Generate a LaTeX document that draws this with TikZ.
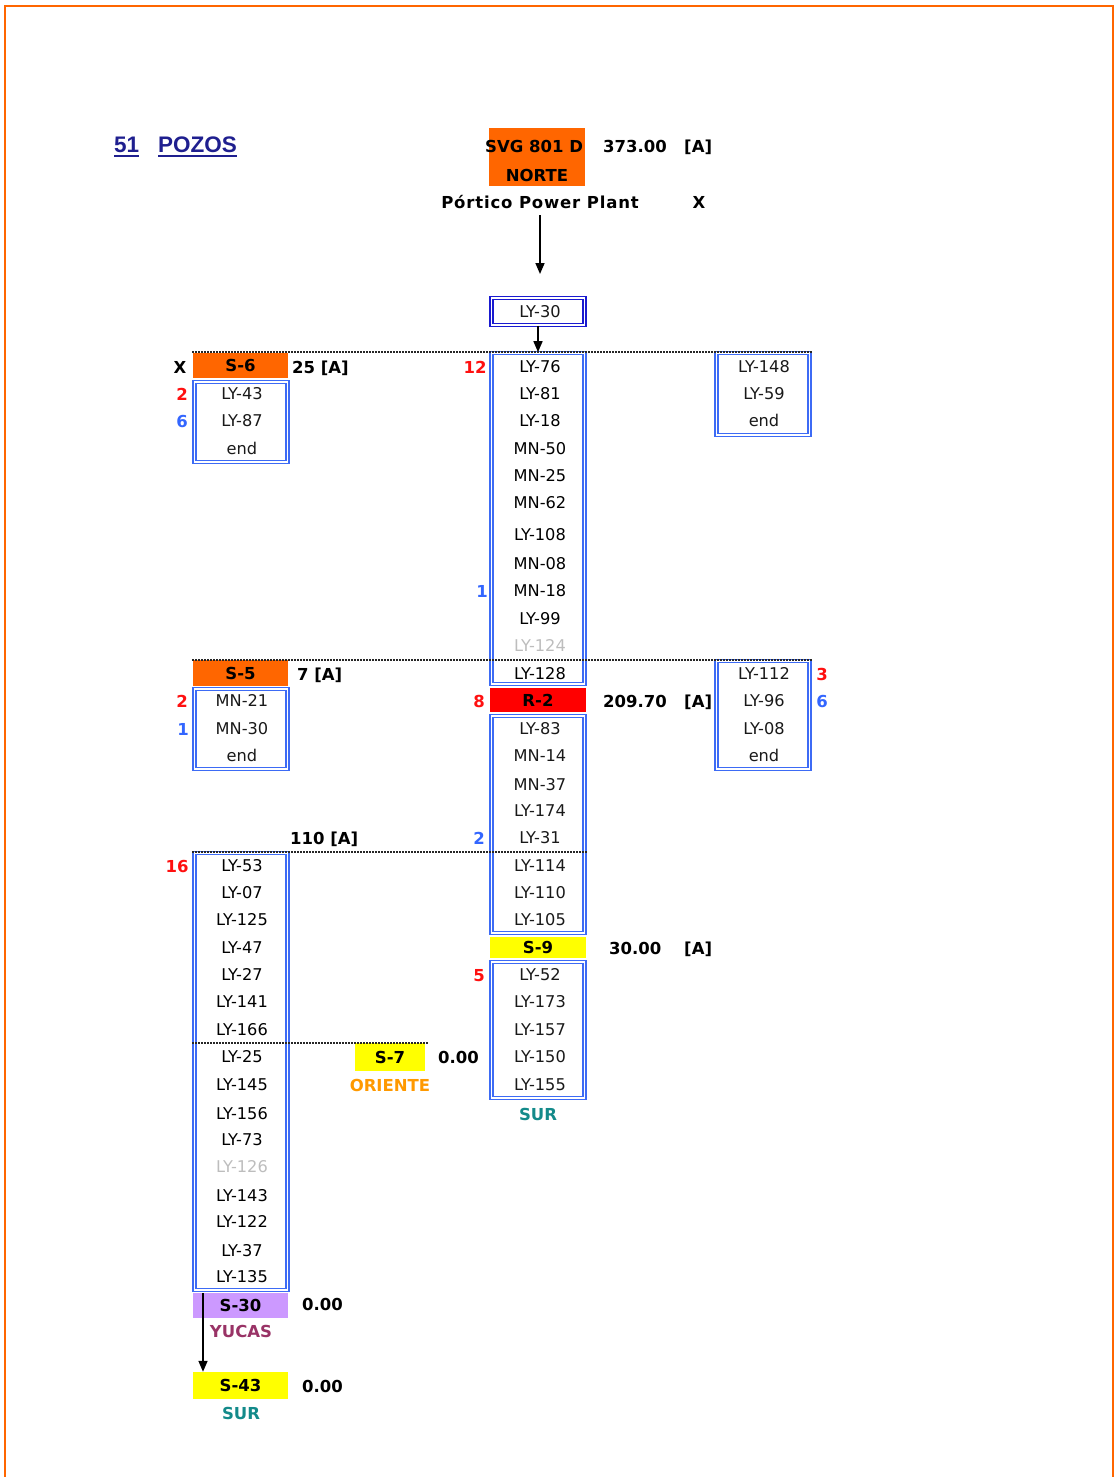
\documentclass[tikz,border=0pt]{standalone}
\usepackage{fontspec}
\setmainfont{DejaVu Sans}
\newfontfamily\titlefont{Liberation Sans}
\usetikzlibrary{arrows.meta}

\definecolor{frameorange}{HTML}{FF6600}
\definecolor{barorange}{HTML}{FF6600}
\definecolor{barred}{HTML}{FF0000}
\definecolor{baryellow}{HTML}{FFFF00}
\definecolor{barpurple}{HTML}{CC99FF}
\definecolor{wellblue}{HTML}{3D6BF5}
\definecolor{feedblue}{HTML}{1A1AD0}
\definecolor{cntblue}{HTML}{3366FF}
\definecolor{cntred}{HTML}{FF1010}
\definecolor{titlenavy}{HTML}{1F1F8F}
\definecolor{zoneteal}{HTML}{138A8A}
\definecolor{zoneorange}{HTML}{FF9900}
\definecolor{zonemaroon}{HTML}{993366}
\definecolor{dimgray}{HTML}{BDBDBD}

\tikzset{
  item/.style={font=\fontsize{16.2}{18}\selectfont, text=black!90, inner sep=0pt,
               text height=11.8pt, text depth=0pt},
  lab/.style={font=\fontsize{16.5}{18}\selectfont\bfseries, text=black, inner sep=0pt,
              text height=12pt, text depth=0pt},
  cnt/.style={lab, text=cntred},
  cntb/.style={lab, text=cntblue},
  wellbox/.style={draw=wellblue, double=white, double distance=1.3pt, line width=1.7pt,
                  minimum width=93pt, inner sep=0pt},
  bar/.style={lab, minimum width=95pt, inner sep=0pt},
  sep/.style={line width=2pt, dash pattern=on 1.5pt off 1.5pt, black!85},
  feed/.style={line width=1.6pt, -{Triangle[length=11pt,width=9pt]}},
}

\begin{document}
\begin{tikzpicture}[x=1pt,y=-1pt]
\useasboundingbox (0,0) rectangle (1117,1477);

% page frame
\draw[frameorange, line width=2.5pt] (5,1477) -- (5,6) -- (1113,6) -- (1113,1477);

% title
\node[font=\titlefont\fontsize{22.5}{25}\selectfont\bfseries, text=titlenavy, anchor=west,
      inner sep=0pt, text height=16pt, text depth=0pt] (count) at (114,144) {51};
\node[font=\titlefont\fontsize{22.5}{25}\selectfont\bfseries, text=titlenavy, anchor=west,
      inner sep=0pt, text height=16pt, text depth=0pt] (pozos) at (158,144) {POZOS};
\draw[titlenavy, line width=2.2pt] ([yshift=-3.5pt]count.south west) -- ([yshift=-3.5pt]count.south east);
\draw[titlenavy, line width=2.2pt] ([yshift=-3.5pt]pozos.south west) -- ([yshift=-3.5pt]pozos.south east);

% source
\node[fill=barorange, minimum width=96pt, minimum height=58pt, inner sep=0pt] (svg) at (537,157) {};
\node[lab, anchor=west] (svgname) at (485,146) {SVG 801 D};
\node[lab] (norte) at (537,175) {NORTE};
\node[lab, anchor=west] (svgamp) at (603,146) {373.00};
\node[lab, anchor=west] (svgunit) at (684,146) {[A]};
\node[lab, font=\fontsize{16.5}{18}\selectfont\bfseries\addfontfeature{LetterSpace=5}] (plant) at (540,202) {Pórtico Power Plant};
\node[lab] (plantx) at (699,202) {X};
\coordinate (feedtop) at (540,215);
\coordinate (feedend) at (540,274);
\draw[feed] (feedtop) -- (feedend);

% LY-30
\node[wellbox, draw=feedblue, minimum height=27pt] (ly30) at (538,311.5) {};
\node[item] (ly30t) at (540,312) {LY-30};

% well boxes
\node[wellbox, minimum height=80pt]  (s6list) at (241,422) {};
\node[wellbox, minimum height=331pt] (col1)   at (538,518.5) {};
\node[wellbox, minimum height=82pt]  (rtop)   at (763,394) {};
\node[wellbox, minimum height=80pt]  (s5list) at (241,729) {};
\node[wellbox, minimum height=108pt] (rmid)   at (763,715) {};
\node[wellbox, minimum height=217pt] (col2)   at (538,824.5) {};
\node[wellbox, minimum height=136pt] (col3)   at (538,1030) {};
\node[wellbox, minimum height=437pt] (bigleft) at (241,1071.5) {};

\draw[feed] (ly30.south) -- (col1.north);

% bars
\node[bar, fill=barorange, minimum height=25pt] (s6) at (240.5,365.5) {S-6};
\node[bar, fill=barorange, minimum height=26pt] (s5) at (240.5,673) {S-5};
\node[bar, fill=barred, minimum width=96pt, minimum height=24pt] (r2) at (538,700) {R-2};
\node[bar, fill=baryellow, minimum width=96pt, minimum height=21pt] (s9) at (538,947.5) {S-9};
\node[bar, fill=baryellow, minimum width=70pt, minimum height=28pt] (s7) at (390,1057) {S-7};
\node[bar, fill=barpurple, minimum height=25pt] (s30) at (240.5,1305.5) {S-30};
\node[bar, fill=baryellow, minimum height=27pt] (s43) at (240.5,1385.5) {S-43};

% separators
\draw[sep] (192,352) -- (812,352);
\draw[sep] (192,660) -- (812,660);
\draw[sep] (192,852) -- (587,852);
\draw[sep] (192,1043) -- (428,1043);

% well names
\foreach \t/\y/\c [count=\i] in {LY-76/367/black, LY-81/394/black, LY-18/421/black,
    MN-50/449/black, MN-25/476/black, MN-62/503/black, LY-108/535/black, MN-08/564/black,
    MN-18/591/black, LY-99/619/black, LY-124/646/dimgray, LY-128/674/black}
  \node[item, text=\c] (c1-\i) at (540,\y) {\t};
\foreach \t/\y [count=\i] in {LY-83/729, MN-14/756, MN-37/785, LY-174/811, LY-31/838,
    LY-114/866, LY-110/893, LY-105/920}
  \node[item] (c2-\i) at (540,\y) {\t};
\foreach \t/\y [count=\i] in {LY-52/975, LY-173/1002, LY-157/1030, LY-150/1057, LY-155/1085}
  \node[item] (c3-\i) at (540,\y) {\t};
\foreach \t/\y/\c [count=\i] in {LY-53/866/black, LY-07/893/black, LY-125/920/black,
    LY-47/948/black, LY-27/975/black, LY-141/1002/black, LY-166/1030/black, LY-25/1057/black,
    LY-145/1085/black, LY-156/1114/black, LY-73/1140/black, LY-126/1167/dimgray,
    LY-143/1196/black, LY-122/1222/black, LY-37/1251/black, LY-135/1277/black}
  \node[item, text=\c] (bl-\i) at (242,\y) {\t};
\foreach \t/\y [count=\i] in {LY-43/394, LY-87/421, end/449}
  \node[item] (s6l-\i) at (242,\y) {\t};
\foreach \t/\y [count=\i] in {MN-21/701, MN-30/729, end/756}
  \node[item] (s5l-\i) at (242,\y) {\t};
\foreach \t/\y [count=\i] in {LY-148/367, LY-59/394, end/421}
  \node[item] (rt-\i) at (764,\y) {\t};
\foreach \t/\y [count=\i] in {LY-112/674, LY-96/701, LY-08/729, end/756}
  \node[item] (rm-\i) at (764,\y) {\t};

% counts
\node[lab] (s6x) at (180,367) {X};
\node[cnt] (n1) at (182,394) {2};
\node[cntb] (n2) at (182,421) {6};
\node[cnt] (n3) at (475,367) {12};
\node[cntb] (n4) at (482,591) {1};
\node[cnt] (n5) at (479,701) {8};
\node[cntb] (n6) at (479,838) {2};
\node[cnt] (n7) at (479,975) {5};
\node[cnt] (n8) at (182,701) {2};
\node[cntb] (n9) at (183,729) {1};
\node[cnt] (n10) at (822,674) {3};
\node[cntb] (n11) at (822,701) {6};
\node[cnt] (n12) at (177,866) {16};

% currents
\node[lab, anchor=west] (s6amp) at (292,367) {25 [A]};
\node[lab, anchor=west] (s5amp) at (297,674) {7 [A]};
\node[lab, anchor=west] (blamp) at (290,838) {110 [A]};
\node[lab, anchor=west] (r2amp) at (603,701) {209.70};
\node[lab, anchor=west] (r2unit) at (684,701) {[A]};
\node[lab, anchor=west] (s9amp) at (609,948) {30.00};
\node[lab, anchor=west] (s9unit) at (684,948) {[A]};
\node[lab, anchor=west] (s7amp) at (438,1057) {0.00};
\node[lab, anchor=west] (s30amp) at (302,1304) {0.00};
\node[lab, anchor=west] (s43amp) at (302,1386) {0.00};

% zones
\node[lab, text=zoneteal] (zsur1) at (538,1114) {SUR};
\node[lab, text=zoneorange] (zori) at (390,1085) {ORIENTE};
\node[lab, text=zonemaroon] (zyuc) at (241,1331) {YUCAS};
\node[lab, text=zoneteal] (zsur2) at (241,1413) {SUR};

% transfer S-30 to S-43
\coordinate (drop) at (203,1293);
\draw[feed] (drop) -- (drop |- s43.north);
\end{tikzpicture}
\end{document}
